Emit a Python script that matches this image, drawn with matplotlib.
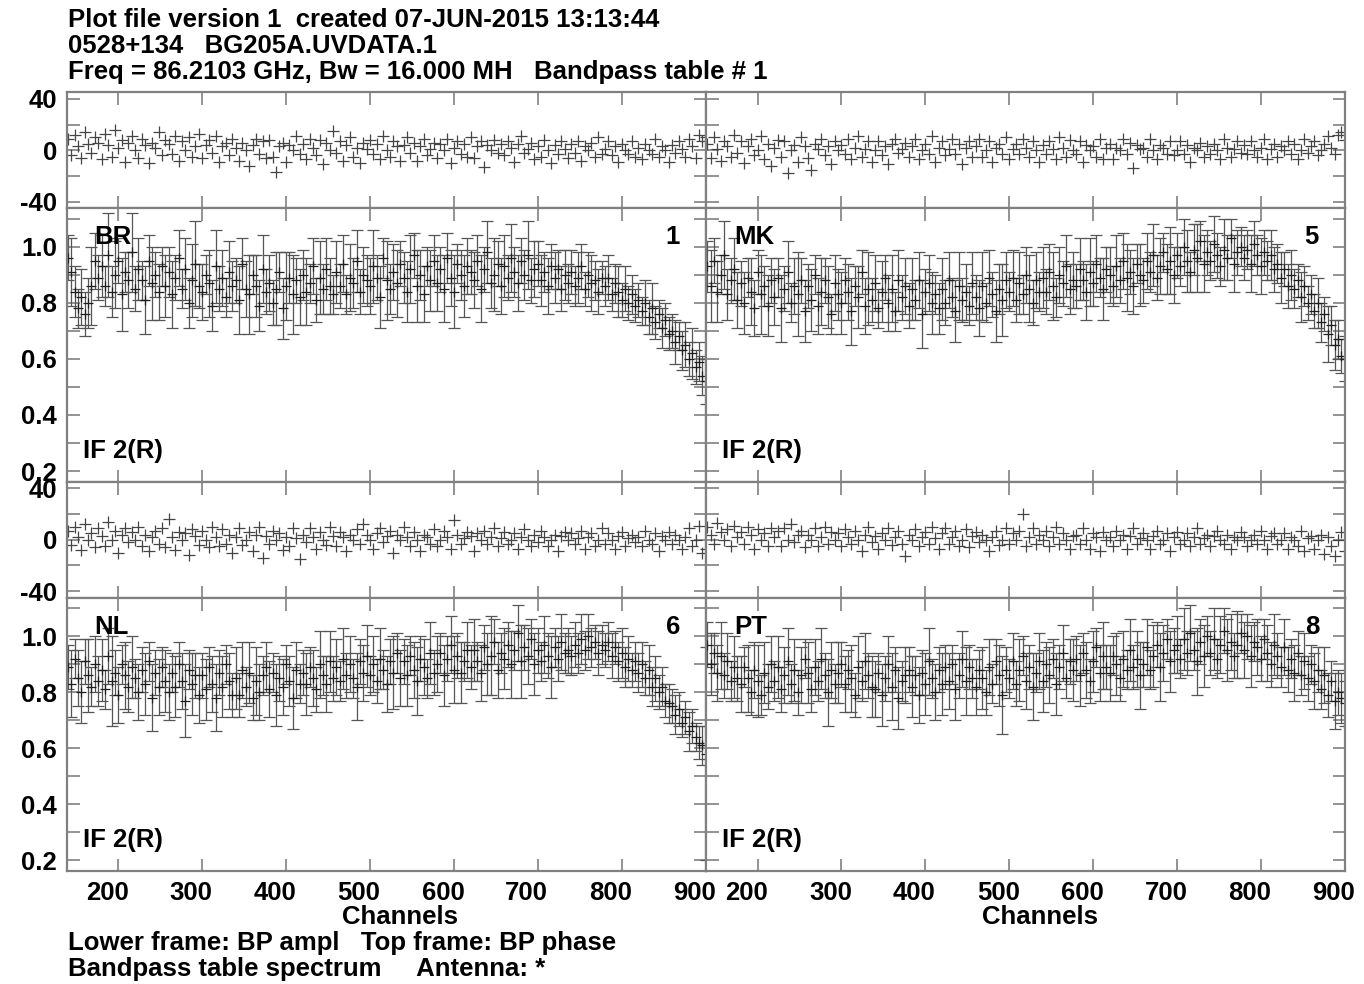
import numpy as np
import matplotlib
matplotlib.use("Agg")
from matplotlib import pyplot as plt
from matplotlib import transforms

plt.rcParams['font.family'] = ['Liberation Sans', 'DejaVu Sans']
plt.rcParams['font.weight'] = 'bold'
plt.rcParams['axes.unicode_minus'] = False

# channel numbers (every 4th channel of the bandpass table)
channels = np.arange(140, 901, 4)

# amplitudes in percent, phases in degrees, errors in percent (half length)
br_amp = [96, 91, 84, 78, 82, 76, 80, 86, 95, 89,
          93, 86, 97, 84, 90, 95, 83, 91, 88, 98,
          85, 92, 88, 81, 95, 87, 90, 84, 93, 86,
          91, 83, 89, 96, 85, 92, 80, 88, 94, 86,
          84, 90, 87, 79, 93, 85, 89, 82, 91, 86,
          88, 81, 94, 85, 83, 90, 86, 79, 92, 84,
          87, 80, 85, 91, 78, 86, 89, 83, 88, 82,
          90, 84, 87, 93, 81, 89, 85, 92, 86, 83,
          91, 86, 94, 83, 89, 87, 95, 84, 90, 88,
          86, 93, 89, 82, 96, 88, 85, 91, 87, 94,
          89, 84, 92, 97, 86, 90, 83, 93, 88, 95,
          87, 92, 85, 96, 89, 84, 94, 90, 86, 93,
          91, 88, 95, 85, 92, 98, 87, 90, 94, 86,
          93, 89, 96, 91, 87, 95, 90, 97, 88, 92,
          94, 88, 91, 86, 93, 89, 92, 85, 90, 87,
          91, 86, 89, 93, 85, 90, 87, 88, 84, 89,
          86, 89, 83, 87, 84, 81, 85, 80, 83, 79,
          81, 77, 80, 75, 78, 73, 76, 71, 74, 69,
          70, 66, 68, 63, 65, 60, 62, 57, 59, 54,
          52]
br_err = [8, 12, 9, 7, 10, 8, 9, 14, 10, 8,
          11, 7, 15, 9, 12, 8, 13, 7, 10, 14,
          8, 11, 7, 12, 9, 13, 8, 10, 7, 11,
          9, 12, 8, 10, 7, 11, 9, 13, 15, 8,
          10, 7, 12, 9, 13, 8, 10, 7, 11, 9,
          8, 12, 9, 10, 14, 7, 11, 9, 12, 8,
          10, 8, 13, 7, 11, 12, 9, 14, 8, 10,
          9, 12, 7, 10, 8, 13, 9, 11, 10, 7,
          11, 8, 10, 7, 12, 9, 11, 8, 10, 9,
          10, 13, 8, 11, 7, 14, 9, 10, 12, 8,
          9, 11, 12, 8, 13, 9, 10, 7, 11, 9,
          10, 8, 12, 9, 10, 13, 7, 9, 11, 10,
          8, 10, 9, 12, 8, 11, 9, 13, 8, 10,
          11, 8, 12, 9, 10, 8, 9, 12, 8, 10,
          8, 9, 7, 10, 8, 9, 7, 8, 9, 7,
          8, 7, 9, 8, 6, 8, 10, 7, 8, 6,
          7, 8, 6, 7, 9, 6, 8, 6, 7, 6,
          6, 5, 8, 6, 9, 6, 5, 7, 6, 6,
          6, 8, 5, 7, 8, 6, 9, 6, 7, 7,
          8]
br_phase = [9, -4, 12, 3, -6, 14, 5, -2, 10, 6,
            -7, 13, 4, -5, 16, 2, 8, -9, 6, 11,
            0, -6, 9, 4, -10, 6, 2, 14, -4, 8,
            5, -3, 11, -8, 7, 0, 10, -5, 3, 13,
            -6, 4, 8, -2, 11, -9, 3, 6, -4, 9,
            2, -8, 6, 0, -12, 4, 9, -3, 7, -6,
            8, -5, -17, 3, 6, -9, 4, 0, 11, -3,
            5, -7, 9, 2, -4, 8, -11, 6, 0, 15,
            -2, 7, -8, 4, 10, -5, 2, -10, 6, 1,
            8, -3, 5, -7, 11, 0, -5, 7, 3, -8,
            4, 10, -2, 6, -8, 3, 9, -4, 1, 6,
            -6, 5, 0, 9, -10, 2, 7, -3, 5, -5,
            10, -6, 3, 7, -13, 4, 0, 8, -2, 5,
            -4, 7, 2, -9, 5, 11, -2, 1, 6, -7,
            3, -5, 8, 0, -10, 4, -3, 7, 1, -6,
            5, -2, 7, -8, 3, 0, 6, -5, 10, -3,
            1, 7, -4, 3, -9, 5, 0, -3, 7, -5,
            2, -7, 5, 0, -3, 9, -5, 3, 0, -9,
            4, -2, 7, 1, -5, 9, 3, -6, 12, 7,
            10]

mk_amp = [93, 86, 95, 84, 90, 97, 83, 88, 92, 81,
          87, 80, 89, 84, 78, 91, 83, 86, 79, 88,
          82, 89, 78, 85, 91, 80, 86, 83, 88, 77,
          86, 81, 90, 79, 84, 88, 82, 76, 87, 83,
          80, 88, 84, 77, 86, 82, 91, 79, 85, 81,
          87, 78, 84, 89, 80, 85, 77, 88, 82, 86,
          79, 85, 81, 88, 76, 84, 87, 80, 83, 78,
          85, 80, 88, 82, 77, 86, 81, 84, 79, 87,
          82, 78, 86, 80, 89, 83, 77, 85, 81, 88,
          84, 89, 81, 87, 83, 90, 85, 80, 88, 84,
          89, 84, 91, 86, 82, 90, 87, 93, 85, 88,
          86, 92, 88, 84, 91, 87, 94, 89, 85, 92,
          90, 86, 93, 88, 95, 89, 91, 86, 94, 90,
          88, 95, 91, 97, 89, 93, 98, 92, 95, 90,
          97, 93, 100, 95, 91, 99, 96, 102, 94, 98,
          95, 101, 97, 93, 99, 96, 103, 94, 98, 100,
          96, 99, 94, 101, 97, 93, 98, 95, 97, 92,
          94, 89, 92, 86, 90, 85, 88, 82, 86, 80,
          83, 77, 80, 73, 76, 69, 72, 65, 67, 61,
          60]
mk_err = [9, 13, 8, 11, 7, 12, 9, 8, 11, 10,
          8, 11, 7, 12, 10, 8, 14, 7, 11, 8,
          10, 7, 12, 8, 11, 7, 10, 15, 8, 11,
          8, 11, 7, 10, 12, 8, 11, 7, 10, 9,
          11, 8, 10, 12, 7, 11, 8, 10, 13, 8,
          10, 7, 11, 8, 10, 12, 7, 11, 8, 10,
          8, 11, 7, 10, 12, 8, 10, 11, 7, 9,
          11, 8, 10, 7, 11, 12, 8, 10, 7, 11,
          8, 10, 12, 7, 10, 8, 11, 9, 13, 10,
          7, 10, 8, 11, 7, 10, 12, 8, 10, 7,
          11, 8, 10, 12, 7, 10, 8, 11, 9, 10,
          8, 11, 7, 10, 12, 8, 10, 7, 11, 8,
          10, 7, 11, 8, 10, 12, 8, 10, 7, 11,
          8, 10, 7, 11, 8, 10, 7, 9, 12, 10,
          8, 7, 10, 11, 7, 9, 12, 7, 10, 8,
          7, 10, 8, 7, 11, 8, 7, 10, 8, 7,
          8, 7, 10, 8, 7, 10, 8, 7, 9, 8,
          7, 9, 6, 8, 9, 7, 6, 9, 7, 6,
          7, 6, 9, 7, 6, 10, 7, 9, 7, 6,
          8]
mk_phase = [5, -6, 10, 1, -8, 7, 3, -5, 12, -2,
            7, -10, 3, 9, -4, 0, 11, -7, 5, -12,
            2, 8, -5, 7, -18, 0, 4, -9, 10, 3,
            -6, -15, 5, 1, 9, -4, 3, -11, 7, 0,
            4, -3, 9, -7, 2, 11, -5, 1, 7, -9,
            0, 7, -4, 3, -11, 5, 9, -2, 1, 6,
            -5, 3, 9, -7, 0, 5, -3, 11, -9, 2,
            7, -4, 1, 9, -3, 5, -11, 2, 7, -5,
            3, 9, -5, 0, 7, -9, 2, 5, -3, 10,
            -7, 1, 5, -3, 9, 2, -5, 7, 0, -9,
            4, -3, 7, 1, -7, 10, 2, -5, 8, 0,
            -3, 7, -9, 4, 0, 3, -5, 9, -7, 2,
            5, -7, 2, 0, 9, -3, 6, -14, 4, 1,
            2, -5, 9, 0, -7, 4, 2, -3, 7, -4,
            0, 7, -3, 4, -9, 2, 0, 6, -5, 3,
            -3, 5, 0, -7, 9, 2, -5, 1, 7, -2,
            4, -3, 7, 0, -5, 2, 9, -7, 1, 5,
            -5, 3, 0, 7, -3, 5, -7, 0, 9, -2,
            3, 7, -4, 0, 5, 11, 2, -3, 12, 14,
            8]

nl_amp = [89, 83, 92, 85, 80, 91, 86, 82, 90, 84,
          88, 81, 93, 84, 87, 79, 90, 86, 82, 89,
          85, 80, 88, 83, 91, 78, 87, 82, 89, 84,
          80, 87, 82, 90, 84, 77, 88, 83, 86, 79,
          86, 81, 89, 83, 78, 87, 82, 90, 84, 79,
          85, 79, 88, 82, 87, 78, 84, 80, 86, 89,
          81, 87, 79, 85, 82, 90, 84, 78, 88, 83,
          87, 83, 89, 85, 81, 90, 86, 83, 91, 85,
          89, 84, 92, 86, 90, 85, 82, 91, 87, 93,
          86, 90, 84, 92, 88, 83, 91, 87, 94, 85,
          91, 86, 93, 88, 84, 92, 89, 85, 94, 87,
          90, 94, 86, 92, 97, 88, 93, 87, 91, 95,
          89, 95, 91, 87, 96, 90, 93, 98, 88, 94,
          92, 97, 90, 95, 101, 91, 96, 93, 99, 90,
          95, 91, 97, 93, 89, 96, 92, 98, 94, 95,
          93, 97, 94, 99, 95, 100, 96, 98, 94, 97,
          95, 98, 93, 96, 91, 94, 89, 92, 88, 91,
          87, 90, 85, 88, 82, 85, 80, 82, 77, 76,
          75, 72, 74, 69, 71, 66, 68, 64, 62, 61,
          58]
nl_err = [8, 12, 7, 10, 11, 8, 13, 7, 10, 9,
          11, 7, 10, 16, 8, 10, 7, 12, 9, 11,
          7, 10, 8, 11, 7, 12, 8, 10, 7, 11,
          10, 7, 11, 8, 10, 13, 7, 11, 8, 10,
          8, 11, 7, 10, 12, 8, 11, 7, 10, 8,
          11, 8, 10, 7, 11, 8, 12, 10, 7, 9,
          10, 7, 11, 8, 10, 7, 9, 11, 10, 7,
          8, 11, 7, 10, 8, 12, 7, 10, 11, 8,
          10, 7, 11, 8, 10, 7, 12, 8, 10, 11,
          7, 10, 8, 11, 7, 10, 8, 13, 7, 10,
          8, 11, 7, 10, 12, 8, 10, 7, 11, 8,
          10, 7, 11, 8, 10, 12, 8, 11, 7, 10,
          8, 11, 7, 10, 8, 11, 14, 8, 10, 7,
          11, 8, 12, 7, 10, 13, 8, 10, 7, 11,
          8, 7, 10, 8, 11, 7, 8, 10, 7, 8,
          7, 8, 7, 9, 7, 8, 7, 6, 8, 7,
          6, 7, 8, 6, 7, 9, 7, 8, 6, 7,
          7, 8, 6, 9, 7, 8, 6, 7, 6, 7,
          6, 7, 6, 5, 6, 7, 6, 5, 6, 7,
          38]
nl_phase = [7, -4, 10, 2, -8, 12, 0, 5, -6, 9,
            3, -5, 14, 0, 7, -10, 4, 9, -2, 6,
            0, 10, -5, 4, -9, 2, 7, -3, 9, -6,
            16, 2, -8, 6, 0, 5, -12, 8, 3, -4,
            7, 0, -6, 10, 2, -5, 8, -3, 4, -10,
            2, 9, -4, 0, 6, -9, 4, 10, -14, 3,
            -3, 7, 0, 5, -8, 2, -5, 9, 1, -15,
            4, -2, 9, 2, -7, 6, 0, -4, 10, 3,
            -5, 6, 2, -9, 4, 0, 8, -3, 12, 4,
            0, -7, 5, 9, -2, 3, 7, -10, 4, 0,
            10, 2, -5, 6, 0, -9, 4, 2, -3, 8,
            -5, 0, 7, 2, -7, 15, 4, -3, 1, 6,
            3, -9, 5, 0, 7, -3, 2, 9, -5, 1,
            6, -3, 0, 5, -7, 2, 8, 0, -5, 4,
            -2, 7, 2, -5, 0, 4, -9, 3, 6, 0,
            5, -3, 1, 7, -7, 2, 5, -5, 0, 9,
            -3, 5, 0, -7, 3, 6, -5, 1, 4, -2,
            2, -5, 7, 0, -3, 5, -9, 3, 0, 6,
            -3, 4, 0, -7, 2, 9, -5, 0, 11, -10,
            -7]

pt_amp = [97, 90, 94, 87, 93, 86, 91, 84, 89, 85,
          83, 89, 85, 80, 88, 84, 79, 87, 82, 90,
          84, 89, 81, 86, 91, 83, 88, 80, 86, 92,
          87, 81, 89, 84, 92, 86, 80, 88, 83, 87,
          90, 83, 88, 85, 79, 89, 84, 91, 86, 82,
          81, 87, 79, 85, 90, 82, 88, 78, 84, 86,
          88, 82, 86, 79, 87, 83, 91, 85, 80, 88,
          83, 89, 84, 90, 81, 86, 92, 84, 89, 85,
          82, 88, 85, 80, 89, 83, 91, 86, 79, 88,
          85, 91, 83, 88, 93, 84, 89, 82, 87, 91,
          84, 90, 86, 92, 83, 89, 94, 85, 91, 88,
          92, 86, 94, 88, 84, 91, 96, 87, 93, 89,
          87, 93, 90, 85, 92, 88, 95, 89, 92, 86,
          90, 96, 88, 93, 97, 89, 94, 99, 91, 95,
          97, 92, 99, 94, 101, 95, 91, 98, 93, 100,
          94, 99, 92, 97, 102, 95, 98, 93, 97, 101,
          95, 100, 93, 98, 96, 92, 99, 94, 90, 97,
          93, 89, 96, 88, 92, 87, 94, 86, 91, 85,
          90, 84, 88, 81, 86, 79, 84, 77, 80, 78,
          76]
pt_err = [8, 11, 7, 10, 12, 8, 10, 7, 11, 8,
          10, 7, 12, 8, 10, 13, 7, 11, 8, 10,
          7, 11, 8, 10, 12, 7, 11, 8, 10, 7,
          11, 8, 10, 7, 11, 8, 12, 10, 7, 11,
          8, 10, 7, 12, 8, 11, 7, 10, 8, 11,
          10, 7, 11, 8, 10, 12, 8, 11, 7, 10,
          8, 11, 7, 10, 8, 11, 12, 7, 10, 8,
          11, 8, 10, 7, 11, 8, 10, 12, 8, 7,
          10, 7, 11, 8, 10, 7, 8, 11, 14, 8,
          7, 10, 8, 11, 7, 10, 8, 12, 7, 10,
          11, 8, 10, 7, 11, 8, 10, 7, 8, 11,
          8, 11, 7, 10, 8, 11, 7, 10, 12, 8,
          10, 7, 11, 8, 10, 7, 11, 8, 10, 12,
          8, 10, 7, 11, 8, 12, 10, 7, 11, 8,
          10, 7, 11, 8, 10, 7, 12, 8, 11, 7,
          8, 11, 7, 10, 8, 11, 10, 8, 12, 7,
          10, 8, 11, 7, 10, 8, 7, 10, 8, 11,
          8, 7, 10, 8, 7, 10, 8, 7, 10, 8,
          7, 10, 8, 7, 10, 8, 7, 10, 8, 9,
          8]
pt_phase = [10, 4, -3, 13, 6, 0, 8, -5, 11, 2,
            6, -3, 10, 4, -7, 8, 0, 5, -5, 9,
            2, 7, -5, 9, 0, 12, -2, 4, 7, -6,
            4, 0, 9, -5, 2, 10, -3, 6, 0, 5,
            -5, 8, 2, -3, 7, 0, -9, 4, 10, -2,
            3, -7, 5, 0, 9, -4, 2, 7, -3, -13,
            4, 0, 8, -5, 2, 6, -3, 10, 1, -7,
            5, 9, -3, 2, 7, -5, 0, 8, -6, 3,
            6, -2, 4, 0, -9, 2, 7, -4, 0, 9,
            -3, 5, 0, 7, 20, -5, 2, 9, -3, 4,
            0, 7, -5, 2, 10, -3, 5, 0, -7, 3,
            4, -3, 9, 0, -7, 5, 2, -9, 6, 0,
            2, -5, 7, 0, 4, -7, 3, 9, -3, 1,
            5, 0, -7, 3, 7, -3, 0, 5, -9, 2,
            6, -3, 0, 5, -5, 2, 9, -3, 1, 4,
            -5, 3, 7, 0, -3, 4, -7, 2, 0, 6,
            2, -5, 0, 4, -3, 7, 0, -7, 3, 5,
            -3, 0, 5, -7, 2, 0, -5, 7, -9, 1,
            3, -7, 0, 4, -11, 2, -5, -13, 0, 6,
            -9]

antennas = ['BR', 'MK', 'NL', 'PT']
ant_numbers = ['1', '5', '6', '8']
amps = [br_amp, mk_amp, nl_amp, pt_amp]
errs = [br_err, mk_err, nl_err, pt_err]
phases = [br_phase, mk_phase, nl_phase, pt_phase]

header = ['Plot file version 1  created 07-JUN-2015 13:13:44',
          '0528+134   BG205A.UVDATA.1',
          'Freq = 86.2103 GHz, Bw = 16.000 MH   Bandpass table # 1']
footer = ['Lower frame: BP ampl   Top frame: BP phase',
          'Bandpass table spectrum     Antenna: *']

W, H = 1364, 984
fig = plt.figure(figsize=(W / 100, H / 100), dpi=100)

frame_col = '#808080'
fs = 18.5


def add_ax(x0, y0, x1, y1):
    return fig.add_axes([x0 / W, 1 - y1 / H, (x1 - x0) / W, (y1 - y0) / H])


def style(ax, left_labels, bottom_labels):
    for s in ax.spines.values():
        s.set_color(frame_col)
        s.set_linewidth(1.6)
    ax.tick_params(which='both', direction='in', top=True, right=True,
                   color=frame_col, width=1.2, length=9, labelsize=fs,
                   labelleft=left_labels, labelbottom=bottom_labels, pad=7)
    ax.set_xlim(138.5, 900.5)
    ax.set_xticks(np.arange(200, 901, 100))
    if bottom_labels:
        shift = transforms.ScaledTranslation(-0.11, 0, fig.dpi_scale_trans)
        for lab in ax.get_xticklabels():
            lab.set_transform(lab.get_transform() + shift)


cols = [(66.7, 706), (706, 1345)]
rows = [(92.3, 208.3, 481.7), (481.7, 597.7, 871.1)]

for k in range(4):
    r, c = divmod(k, 2)
    x0, x1 = cols[c]
    ytop, ymid, ybot = rows[r]
    axp = add_ax(x0, ytop, x1, ymid)
    axa = add_ax(x0, ymid, x1, ybot)

    ph = np.array(phases[k])
    axp.plot(channels, ph, '+', color='#444444', ms=9, mew=0.9)
    axp.set_ylim(-45, 45)
    axp.set_yticks([-40, 0, 40])
    axp.set_yticks([-20, 20], minor=True)
    style(axp, c == 0, False)

    amp = np.array(amps[k]) / 100.0
    err = np.array(errs[k]) / 100.0
    axa.errorbar(channels, amp, yerr=err, fmt='+', color='#1e1e1e',
                 ecolor='#555555', elinewidth=0.9, capsize=4, capthick=0.9,
                 ms=7, mew=0.9)
    axa.set_ylim(0.162, 1.137)
    axa.set_yticks([0.2, 0.4, 0.6, 0.8, 1.0])
    axa.set_yticks([0.3, 0.5, 0.7, 0.9, 1.1], minor=True)
    axa.set_yticklabels(['0.2', '0.4', '0.6', '0.8', '1.0'])
    style(axa, c == 0, r == 1)

    axa.annotate(antennas[k], xy=(0, 1), xycoords='axes fraction',
                 xytext=(28, -29), textcoords='offset pixels',
                 ha='left', va='center', fontsize=fs)
    axa.annotate(ant_numbers[k], xy=(1, 1), xycoords='axes fraction',
                 xytext=(-26, -29), textcoords='offset pixels',
                 ha='right', va='center', fontsize=fs)
    axa.annotate('IF 2(R)', xy=(0, 0), xycoords='axes fraction',
                 xytext=(16, 31), textcoords='offset pixels',
                 ha='left', va='center', fontsize=fs)

for xc in (400, 1040):
    fig.text(xc / W, 1 - 917 / H, 'Channels', ha='center', va='center',
             fontsize=fs)

for i, line in enumerate(header):
    fig.text(68 / W, 1 - (20 + 26 * i) / H, line, ha='left', va='center',
             fontsize=fs)
for i, line in enumerate(footer):
    fig.text(68 / W, 1 - (943 + 26 * i) / H, line, ha='left', va='center',
             fontsize=fs)

fig.savefig('out.png', dpi=100, facecolor='white')
